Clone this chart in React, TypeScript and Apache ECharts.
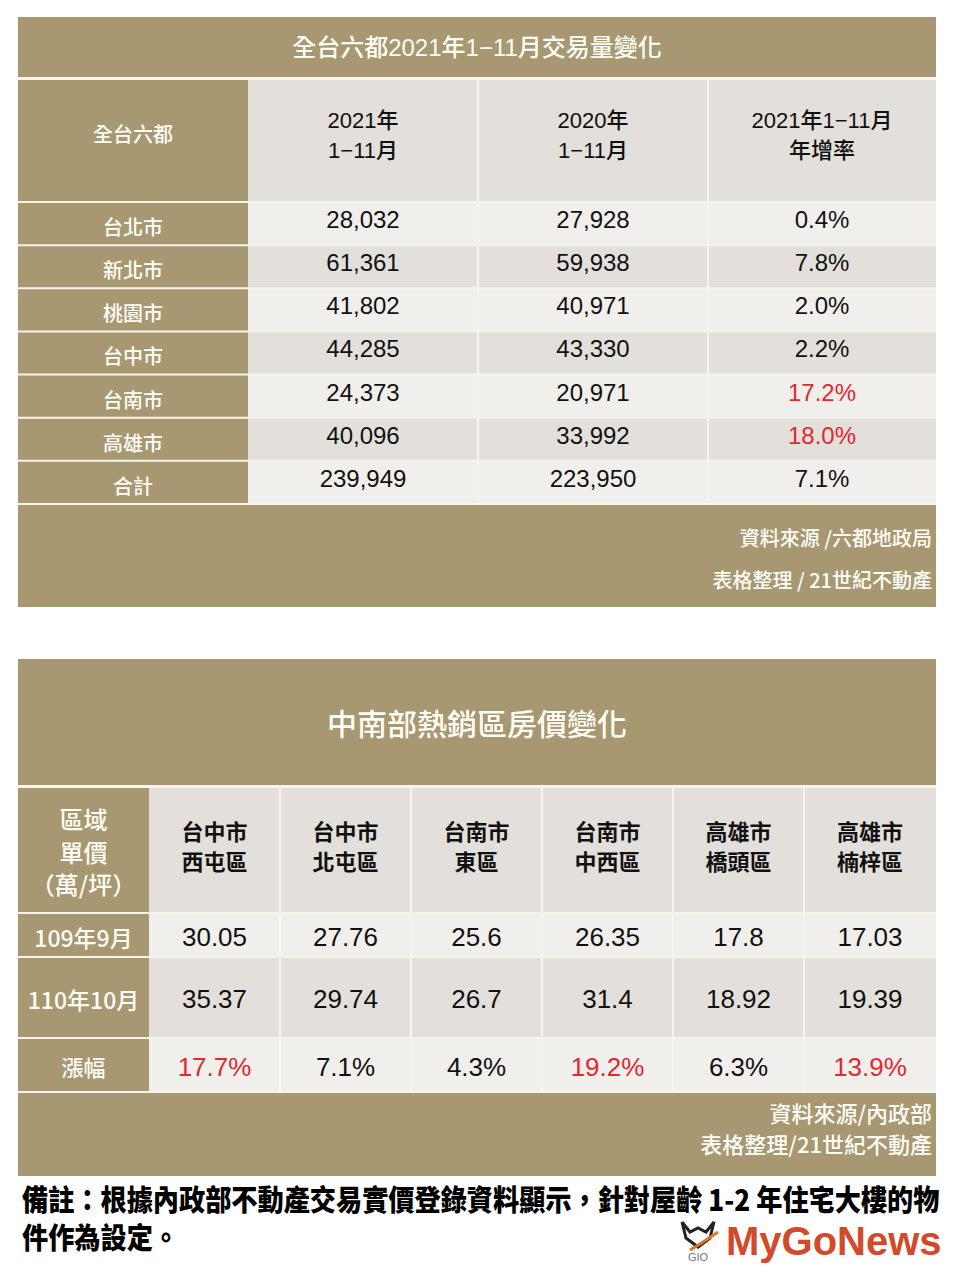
import React, { useEffect, useRef } from "react";
import * as echarts from "echarts";

// ---------- Table 1 data ----------
const TITLE1 = "全台六都2021年1−11月交易量變化";
const headers1 = ["全台六都", "2021年\n1−11月", "2020年\n1−11月", "2021年1−11月\n年增率"];
const cities = ["台北市", "新北市", "桃園市", "台中市", "台南市", "高雄市", "合計"];
const volume2021 = [28032, 61361, 41802, 44285, 24373, 40096, 239949];
const volume2020 = [27928, 59938, 40971, 43330, 20971, 33992, 223950];
const growth = [0.4, 7.8, 2.0, 2.2, 17.2, 18.0, 7.1];
const source1 = ["資料來源 /六都地政局", "表格整理 / 21世紀不動產"];

// ---------- Table 2 data ----------
const TITLE2 = "中南部熱銷區房價變化";
const header2Label = "區域\n單價\n（萬/坪）";
const districts = ["台中市\n西屯區", "台中市\n北屯區", "台南市\n東區", "台南市\n中西區", "高雄市\n橋頭區", "高雄市\n楠梓區"];
const rowLabels2 = ["109年9月", "110年10月", "漲幅"];
const price109 = ["30.05", "27.76", "25.6", "26.35", "17.8", "17.03"];
const price110 = ["35.37", "29.74", "26.7", "31.4", "18.92", "19.39"];
const rise = [17.7, 7.1, 4.3, 19.2, 6.3, 13.9];
const source2 = ["資料來源/內政部", "表格整理/21世紀不動產"];

const NOTE = ["備註：根據內政部不動產交易實價登錄資料顯示，針對屋齡 1-2 年住宅大樓的物", "件作為設定。"];
const LOGO = "MyGoNews";

// ---------- styling ----------
const GOLD = "#a89872";
const LIGHT = "#f1efec";
const DARK = "#e3e0db";
const SEP = "#f7f4ec";
const WHITE = "#fffdf6";
const RED = "#e02a2f";
const FONT = "'Liberation Sans', 'Noto Sans CJK TC', sans-serif";
const CJK = "'Noto Sans CJK TC', sans-serif";

function measure(t: string, font: string) {
  const c = document.createElement("canvas");
  const ctx = c.getContext("2d")!;
  ctx.font = font;
  return ctx.measureText(t).width;
}

function rect(x0: number, y0: number, x1: number, y1: number, fill: string) {
  return { type: "rect", shape: { x: x0, y: y0, width: x1 - x0, height: y1 - y0 }, style: { fill } };
}
function text(t: string, x: number, y: number, size: number, fill: string, opts: any = {}) {
  return {
    type: "text",
    x,
    y,
    scaleX: opts.scaleX || 1,
    style: {
      text: t,
      fill,
      fontSize: size,
      fontFamily: opts.family || FONT,
      fontWeight: opts.weight || 500,
      textAlign: opts.align || "center",
      textVerticalAlign: "middle",
      lineHeight: opts.lineHeight || size * 1.3,
    },
  };
}

function buildGraphics() {
  const g: any[] = [];
  // ===== Table 1 =====
  const c1 = [18, 248, 478, 708, 936];
  g.push(rect(18, 17, 936, 607, SEP));
  g.push(rect(18, 17, 936, 77, GOLD));
  g.push(text(TITLE1, 477, 47, 24, WHITE));
  const hTop = 80, hBot = 202;
  g.push(rect(c1[0], hTop, c1[1], hBot - 1, GOLD));
  g.push(text(headers1[0], (c1[0] + c1[1]) / 2, 133, 20, WHITE, { family: CJK }));
  for (let i = 1; i < 4; i++) {
    g.push(rect(c1[i] + (i > 1 ? 1 : 0), hTop, c1[i + 1] - (i < 3 ? 1 : 0), hBot - 1, DARK));
    g.push(text(headers1[i], (c1[i] + c1[i + 1]) / 2, 135, 22, "#111", { lineHeight: 30 }));
  }
  const rh = 43.14;
  cities.forEach((city, r) => {
    const y0 = hBot + r * rh + 1;
    const y1 = hBot + (r + 1) * rh - 1;
    const cy = (y0 + y1) / 2;
    const bg = r % 2 === 0 ? LIGHT : DARK;
    g.push(rect(c1[0], y0, c1[1], y1, GOLD));
    g.push(text(city, (c1[0] + c1[1]) / 2, cy + 3, 20, WHITE, { family: CJK }));
    const vals = [volume2021[r].toLocaleString("en-US"), volume2020[r].toLocaleString("en-US"), growth[r].toFixed(1) + "%"];
    for (let i = 1; i < 4; i++) {
      g.push(rect(c1[i] + (i > 1 ? 1 : 0), y0, c1[i + 1] - (i < 3 ? 1 : 0), y1, bg));
      const color = i === 3 && growth[r] >= 10 ? RED : "#111";
      g.push(text(vals[i - 1], (c1[i] + c1[i + 1]) / 2, cy - 4, 24, color, { weight: 400 }));
    }
  });
  const fTop = hBot + cities.length * rh + 1;
  g.push(rect(18, fTop, 936, 607, GOLD));
  g.push(text(source1[0], 932, 537, 20, WHITE, { align: "right", family: CJK }));
  g.push(text(source1[1], 932, 579, 20, WHITE, { align: "right", family: CJK }));

  // ===== Table 2 =====
  const c2 = [18, 149, 280, 411, 542, 673, 804, 936];
  g.push(rect(18, 659, 936, 1176, SEP));
  g.push(rect(18, 659, 936, 785, GOLD));
  g.push(text(TITLE2, 477, 722, 30, WHITE, { family: CJK }));
  const h2Top = 788, h2Bot = 913;
  g.push(rect(c2[0], h2Top, c2[1], h2Bot - 1, GOLD));
  g.push(text(header2Label, (c2[0] + c2[1]) / 2, 851, 24, WHITE, { family: CJK, lineHeight: 32.5 }));
  for (let i = 1; i < c2.length - 1; i++) {
    g.push(rect(c2[i] + (i > 1 ? 1 : 0), h2Top, c2[i + 1] - (i < c2.length - 2 ? 1 : 0), h2Bot - 1, DARK));
    g.push(text(districts[i - 1], (c2[i] + c2[i + 1]) / 2, 845, 22, "#111", { family: CJK, lineHeight: 30, weight: "bold" }));
  }
  const rowB = [913, 957, 1038, 1092];
  const rowVals = [price109, price110, rise.map((v) => v.toFixed(1) + "%")];
  const rowTextY = [937, 999, 1067];
  const labelY = [937, 999, 1066];
  rowLabels2.forEach((lab, r) => {
    const y0 = rowB[r] + 1;
    const y1 = rowB[r + 1] - 1;
    const bg = r % 2 === 0 ? LIGHT : DARK;
    g.push(rect(c2[0], y0, c2[1], y1, GOLD));
    g.push(text(lab, (c2[0] + c2[1]) / 2, labelY[r], r === 2 ? 22 : 23, WHITE, { family: CJK }));
    for (let i = 1; i < c2.length - 1; i++) {
      g.push(rect(c2[i] + (i > 1 ? 1 : 0), y0, c2[i + 1] - (i < c2.length - 2 ? 1 : 0), y1, bg));
      const color = r === 2 && rise[i - 1] >= 10 ? RED : "#111";
      g.push(text(rowVals[r][i - 1], (c2[i] + c2[i + 1]) / 2, rowTextY[r], 26, color, { weight: 400 }));
    }
  });
  g.push(rect(18, 1093, 936, 1176, GOLD));
  g.push(text(source2[0], 932, 1112, 22, WHITE, { align: "right", family: CJK }));
  g.push(text(source2[1], 932, 1143, 22, WHITE, { align: "right", family: CJK }));

  // ===== Note =====
  const noteFont = "900 29px 'Noto Sans CJK TC'";
  const w = measure(NOTE[0], noteFont);
  const sx = w > 0 ? Math.min(1, 918 / w) : 0.9;
  g.push(text(NOTE[0], 22, 1198, 29, "#000", { align: "left", family: CJK, weight: 900, scaleX: sx }));
  g.push(text(NOTE[1], 22, 1236, 29, "#000", { align: "left", family: CJK, weight: 900, scaleX: sx }));

  // ===== Logo =====
  g.push({
    type: "polyline",
    shape: { points: [[682, 1222], [686, 1238], [698, 1247], [710, 1238], [714, 1222], [706, 1232], [698, 1228], [690, 1232], [682, 1222]] },
    style: { stroke: "#222", lineWidth: 3, fill: "none" },
  });
  g.push({
    type: "polyline",
    shape: { points: [[690, 1250], [700, 1244], [712, 1236], [718, 1232]] },
    style: { stroke: "#e0752a", lineWidth: 3, fill: "none" },
  });
  g.push(text("GIO", 698, 1257, 11, "#777", { weight: 400 }));
  g.push(text(LOGO, 726, 1241, 40, "#d24a2a", { align: "left", family: "'Liberation Sans', sans-serif", weight: "bold" }));
  return g;
}

export default function App() {
  const ref = useRef<HTMLDivElement>(null);
  useEffect(() => {
    document.body.style.margin = "0";
    const chart = echarts.init(ref.current!, null, { renderer: "svg" });
    chart.setOption({
      animation: false,
      backgroundColor: "#ffffff",
      graphic: { elements: buildGraphics() },
    });
    return () => chart.dispose();
  }, []);
  return <div ref={ref} style={{ width: 960, height: 1280 }} />;
}
